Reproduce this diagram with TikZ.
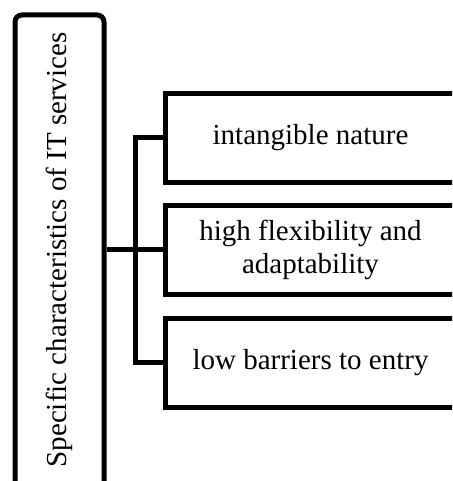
\documentclass[tikz,border=0pt]{standalone}
\usepackage{fontspec}
\setmainfont{Liberation Serif}
\begin{document}
\begin{tikzpicture}[x=1pt,y=1pt,
  box/.style={draw,line width=5pt,minimum width=291pt,minimum height=89pt,
    align=center,inner sep=0pt,font=\fontsize{29}{33}\selectfont},
  link/.style={line width=5pt}]
\path[use as bounding box] (0,0) rectangle (452,481);
\clip (0,0) rectangle (452,481);
% main characteristic box
\node[box,rounded corners=7pt,rotate=90,minimum width=500pt,minimum height=89pt] (main) at (59.5,216) {};
\node[rotate=90,inner sep=0pt,font=\fontsize{29}{33}\selectfont] (mainlabel) at (59.5,231) {Specific characteristics of IT services};
% the three characteristics
\node[box] (intangible) at (310.5,343.25) {intangible nature};
\node[box] (flexibility) at (310.5,231) {high flexibility and\\adaptability};
\node[box] (barriers) at (310.5,118.25) {low barriers to entry};
\coordinate (trunk) at (135,231);
\draw[link] (main.south |- flexibility.west) -- (flexibility.west);
\draw[link] (intangible.west) -- (intangible.west -| trunk) |- (barriers.west);
\end{tikzpicture}
\end{document}
